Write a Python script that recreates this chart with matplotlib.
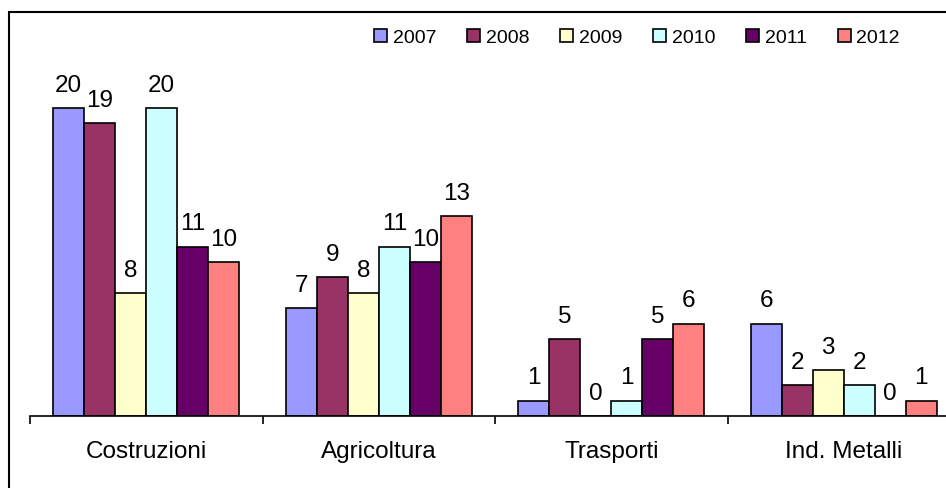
import numpy as np
import matplotlib.pyplot as plt
from matplotlib.patches import Patch, Rectangle

plt.rcParams['font.family'] = ['Liberation Sans', 'DejaVu Sans']

categories = ['Costruzioni', 'Agricoltura', 'Trasporti', 'Ind. Metalli']
years = ['2007', '2008', '2009', '2010', '2011', '2012']
values = [
    [20, 7, 1, 6],   # 2007
    [19, 9, 5, 2],   # 2008
    [8, 8, 0, 3],    # 2009
    [20, 11, 1, 2],  # 2010
    [11, 10, 5, 0],  # 2011
    [10, 13, 6, 1],  # 2012
]
colors = ['#9999FF', '#993366', '#FFFFCC', '#CCFFFF', '#660066', '#FF8080']

fig = plt.figure(figsize=(9.46, 4.88), dpi=100)
ax = fig.add_axes([30/946, 72/488, 930/946, 385/488])

n = len(years)
w = 1/(n + 1.5)
x = np.arange(len(categories))
for i in range(n):
    pos = x - 0.5 + 0.75*w + (i + 0.5)*w
    ax.bar(pos, values[i], w, color=colors[i], edgecolor='black', linewidth=1.2)
    for xb, v in zip(pos, values[i]):
        ax.annotate(str(v), (xb, v), xytext=(0, 8), textcoords='offset points',
                    ha='center', va='bottom', fontsize=17.5)

ax.set_xlim(-0.5, len(categories) - 0.5)
ax.set_ylim(0, 25)
for s in ['left', 'right', 'top']:
    ax.spines[s].set_visible(False)
ax.spines['bottom'].set_linewidth(1.2)
ax.set_yticks([])
ax.set_xticks(np.arange(len(categories) + 1) - 0.5)
ax.set_xticklabels([])
ax.tick_params(axis='x', which='major', length=6, width=1.2, direction='out')
ax.set_xticks(x, minor=True)
ax.set_xticklabels(categories, minor=True, fontsize=17.5)
ax.tick_params(axis='x', which='minor', length=0, pad=18)

handles = [Patch(facecolor=c, edgecolor='black', linewidth=1.2) for c in colors]
fig.legend(handles, years, ncol=6, loc='center', bbox_to_anchor=(637/946, 1 - 38/488),
           frameon=False, fontsize=14, handlelength=0.65, handleheight=0.65,
           handletextpad=0.3, columnspacing=1.6)

fig.patches.append(Rectangle((9/946, -0.1), 1.2, 1.1 - 12/488, transform=fig.transFigure,
                             fill=False, edgecolor='black', linewidth=1.5))

fig.savefig('out.png', dpi=100)
